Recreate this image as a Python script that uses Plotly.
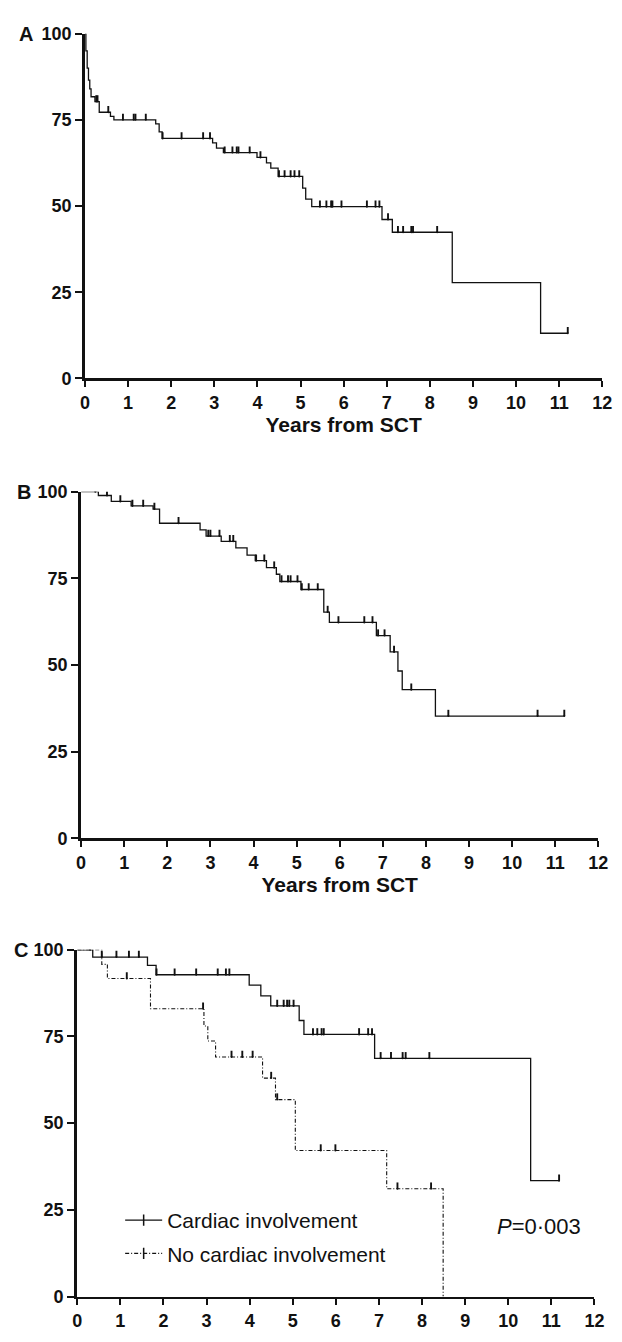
import numpy as np
import plotly.graph_objects as go

# ---------------- data (years from SCT, survival %) ----------------
A_event_t = [0.02, 0.05, 0.08, 0.11, 0.14, 0.23, 0.33, 0.59, 0.67, 1.64, 1.72, 1.79,
             2.96, 3.05, 3.21, 3.99, 4.21, 4.31, 4.48, 5.05, 5.12, 5.26, 6.89, 7.13,
             8.52, 10.57]
A_event_s = [95.0, 90.0, 86.5, 84.0, 81.7, 80.3, 77.2, 76.0, 75.0, 73.8, 71.5, 69.6,
             68.3, 66.8, 65.5, 64.1, 62.5, 61.0, 58.6, 55.2, 52.0, 49.8, 46.1, 42.4,
             27.8, 13.1]
A_censor_t = [0.26, 0.29, 0.54, 0.88, 1.13, 1.17, 1.41, 1.80, 2.24, 2.74, 2.90, 3.24,
              3.42, 3.52, 3.56, 3.82, 4.07, 4.50, 4.63, 4.77, 4.86, 4.97, 5.45, 5.60,
              5.71, 5.74, 5.95, 6.54, 6.74, 6.83, 7.03, 7.26, 7.38, 7.57, 7.61, 8.17,
              11.20]
A_end = 11.20

B_event_t = [0.40, 0.70, 1.16, 1.67, 1.82, 2.76, 2.90, 3.25, 3.59, 3.85, 4.04, 4.30,
             4.53, 4.61, 5.10, 5.63, 5.76, 6.85, 7.17, 7.35, 7.45, 8.22]
B_event_s = [98.9, 97.2, 95.9, 95.0, 90.9, 89.0, 87.2, 85.7, 83.8, 81.7, 80.1, 78.1,
             76.2, 74.1, 71.8, 65.3, 62.3, 58.5, 53.8, 48.3, 42.9, 35.3]
B_censor_t = [0.33, 0.60, 0.91, 1.19, 1.44, 1.70, 2.26, 2.95, 3.00, 3.21, 3.45, 3.53,
              4.06, 4.25, 4.48, 4.65, 4.80, 4.86, 5.02, 5.12, 5.28, 5.49, 5.72, 5.97,
              6.57, 6.76, 6.89, 7.04, 7.26, 7.66, 8.52, 10.59, 11.21]
B_end = 11.21

C1_event_t = [0.36, 1.63, 1.83, 3.99, 4.26, 4.49, 5.15, 5.26, 6.90, 10.52]
C1_event_s = [97.9, 95.5, 92.8, 89.8, 86.7, 83.8, 79.6, 75.6, 68.7, 33.4]
C1_censor_t = [0.30, 0.57, 0.91, 1.20, 1.43, 1.84, 2.26, 2.76, 3.26, 3.45, 3.53, 4.64,
               4.79, 4.87, 4.92, 5.02, 5.47, 5.57, 5.67, 5.72, 6.54, 6.75, 6.84, 7.04,
               7.28, 7.55, 7.62, 8.17, 11.18]
C1_end = 11.18

C2_event_t = [0.57, 0.70, 1.70, 2.94, 3.03, 3.21, 4.30, 4.60, 5.06, 7.18, 8.49]
C2_event_s = [95.8, 91.7, 83.0, 78.0, 73.7, 69.1, 63.0, 56.8, 42.1, 31.1, 0.0]
C2_censor_t = [1.15, 2.92, 3.58, 3.83, 4.07, 4.50, 4.64, 5.65, 5.99, 7.43, 8.21]
C2_end = 8.49

x_ticks = list(range(0, 13))
y_ticks = [0, 25, 50, 75, 100]
legend_names = ["Cardiac involvement", "No cardiac involvement"]
p_text = "<i>P</i>=0·003"
x_title = "Years from SCT"
panel_letters = ["A", "B", "C"]

# ---------------- helpers ----------------
W, H = 622, 1342
FONT = "Arial"
BLACK = "#111111"


def step_xy(ev_t, ev_s, end):
    xs = [0.0] + list(ev_t)
    ys = [100.0] + list(ev_s)
    if end > xs[-1]:
        xs.append(end)
        ys.append(ys[-1])
    return xs, ys


def censor_y(ev_t, ev_s, cens):
    ev_t = np.asarray(ev_t)
    out = []
    for c in cens:
        idx = np.searchsorted(ev_t, c, side="right") - 1
        out.append(100.0 if idx < 0 else ev_s[idx])
    return out


fig = go.Figure()


def add_curve(ev_t, ev_s, cens, end, xa, ya, dash="solid", width=1.3):
    xs, ys = step_xy(ev_t, ev_s, end)
    fig.add_trace(go.Scatter(x=xs, y=ys, mode="lines", line_shape="hv",
                             line=dict(color=BLACK, width=width, dash=dash),
                             xaxis=xa, yaxis=ya, showlegend=False, hoverinfo="skip"))
    cy = censor_y(ev_t, ev_s, cens)
    fig.add_trace(go.Scatter(x=cens, y=cy, mode="markers",
                             marker=dict(size=2, color=BLACK),
                             error_y=dict(type="data", symmetric=False,
                                          array=[1.8] * len(cens),
                                          arrayminus=[0.0] * len(cens),
                                          width=0, thickness=1.9, color=BLACK),
                             xaxis=xa, yaxis=ya, showlegend=False, hoverinfo="skip"))


DASH = "4px,2px,1px,2px"
add_curve(A_event_t, A_event_s, A_censor_t, A_end, "x", "y")
add_curve(B_event_t, B_event_s, B_censor_t, B_end, "x2", "y2")
add_curve(C1_event_t, C1_event_s, C1_censor_t, C1_end, "x3", "y3")
add_curve(C2_event_t, C2_event_s, C2_censor_t, C2_end, "x3", "y3", dash=DASH, width=1.1)

# legend entries
for name, dash, grp in [(legend_names[0], "solid", "g1"), (legend_names[1], DASH, "g2")]:
    fig.add_trace(go.Scatter(x=[None], y=[None], mode="lines+markers", name=name,
                             line=dict(color=BLACK, width=1.3, dash=dash),
                             marker=dict(symbol="line-ns-open", size=8,
                                         line=dict(color=BLACK, width=1.5)),
                             xaxis="x3", yaxis="y3", legendgroup=grp))

# ---------------- axes ----------------
x_domains = [(82, 612), (78, 608), (74, 604)]
y_px = [(24, 374), (489, 841), (954, 1306)]

tickfont = dict(family=FONT, size=18, color=BLACK, weight="bold")
for i in range(3):
    sfx = "" if i == 0 else str(i + 1)
    x0, x1 = x_domains[i]
    top, bot = y_px[i]
    xa = dict(domain=[x0 / W, x1 / W], range=[0, 12], tickvals=x_ticks,
              showline=True, linewidth=2.5, linecolor=BLACK, ticks="outside",
              ticklen=6, tickwidth=2, tickcolor=BLACK, showgrid=False,
              zeroline=False, tickfont=tickfont, anchor="y" + sfx, fixedrange=True)
    if i < 2:
        xa["title"] = dict(text=x_title, standoff=2,
                           font=dict(family=FONT, size=21, color=BLACK, weight="bold"))
    ya = dict(domain=[1 - bot / H, 1 - top / H], range=[0, 100], tickvals=y_ticks,
              showline=True, linewidth=3, linecolor=BLACK, ticks="outside",
              ticklen=7, tickwidth=2, tickcolor=BLACK, showgrid=False,
              zeroline=False, tickfont=tickfont, anchor="x" + sfx, fixedrange=True)
    fig.layout["xaxis" + sfx] = xa
    fig.layout["yaxis" + sfx] = ya

letter_x = [22, 19, 16]
annotations = []
for i, L in enumerate(panel_letters):
    annotations.append(dict(x=letter_x[i] / W, y=1 - y_px[i][0] / H, xref="paper", yref="paper",
                            text=L, showarrow=False, xanchor="center", yanchor="middle",
                            font=dict(family=FONT, size=20, color=BLACK, weight="bold")))
annotations.append(dict(x=502 / W, y=1 - 1235 / H, xref="paper", yref="paper", text=p_text,
                        showarrow=False, xanchor="left", yanchor="middle",
                        font=dict(family=FONT, size=22, color=BLACK)))

fig.update_layout(
    width=W, height=H, margin=dict(l=0, r=0, t=0, b=0),
    paper_bgcolor="white", plot_bgcolor="white",
    annotations=annotations,
    showlegend=True,
    legend=dict(x=118 / W, y=1 - 1208 / H, xanchor="left", yanchor="top",
                bgcolor="rgba(0,0,0,0)", font=dict(family=FONT, size=21, color=BLACK),
                itemwidth=37, tracegroupgap=3, itemclick=False, itemdoubleclick=False),
)

fig.write_html("out.html", config={"displayModeBar": False, "staticPlot": True},
               post_script="document.body.style.margin='0';document.body.style.overflow='hidden';")
